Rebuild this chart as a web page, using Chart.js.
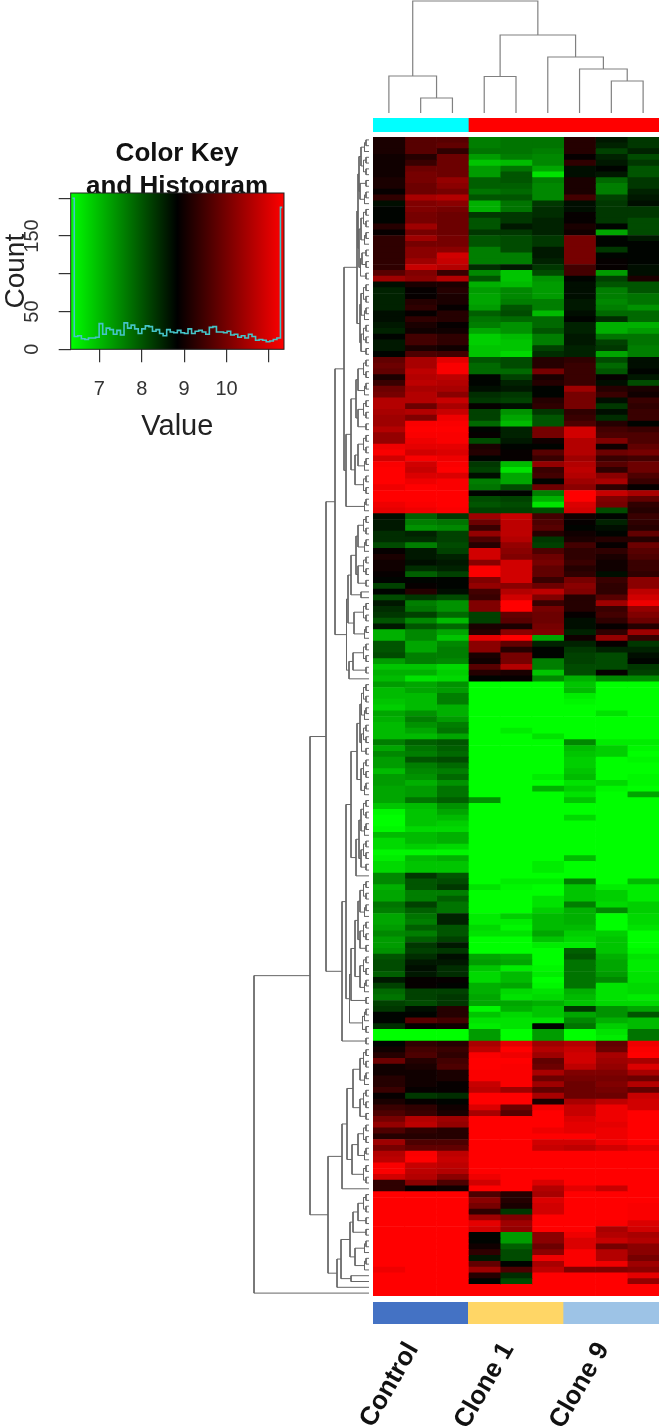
<!DOCTYPE html>
<html>
<head>
<meta charset="utf-8">
<title>Heatmap</title>
<script src="https://cdn.jsdelivr.net/npm/chart.js@4"></script>
<style>
  html, body { margin: 0; padding: 0; background: #fff; }
  body { position: relative; width: 660px; height: 1428px; overflow: hidden; }
  canvas { position: absolute; filter: blur(0.4px); }
  #heat { filter: blur(0.6px); }
</style>
</head>
<body>
<canvas id="key" style="left:0;top:128px" width="354" height="320"></canvas>
<canvas id="treeTop" style="left:373px;top:0" width="286" height="113"></canvas>
<canvas id="treeLeft" style="left:239px;top:137px" width="130" height="1159"></canvas>
<canvas id="stripTop" style="left:373px;top:118px" width="286" height="14"></canvas>
<canvas id="heat" style="left:373px;top:137px" width="286" height="1159"></canvas>
<canvas id="stripBottom" style="left:333px;top:1302px" width="326" height="126"></canvas>
<script>
const groupNames = ['Control', 'Clone 1', 'Clone 9'];
const groupColors = ['#4472c4', '#ffd666', '#9dc3e6'];
const clusterSizes = [3, 6];
const clusterColors = ['#00ffff', '#ff0000'];

const keyMin = 6.325;
const keyMid = 8.84;
const keyMax = 11.354;
const keyTicks = [7, 8, 9, 10];
const countTicks = [0, 50, 150];
const histCounts = [200, 17, 18, 14, 13, 15, 15, 16, 34, 20, 28, 26, 20, 25, 19, 35, 28, 32, 27, 21,
  27, 31, 30, 24, 26, 21, 18, 26, 23, 22, 25, 22, 21, 27, 21, 24, 25, 23, 20, 29,
  30, 23, 23, 22, 24, 19, 20, 16, 18, 15, 20, 17, 12, 13, 12, 10, 11, 13, 15, 188];

// one row per gene, nine samples (3 control, 3 clone 1, 3 clone 9)
const geneRows = [
  [9.1,9.7,9.7,7.6,7.7,7.7,9.2,8.6,8.3],
  [9.1,9.7,9.8,7.6,7.7,7.7,9.2,8.5,8.3],
  [9.1,9.7,9.3,7.7,7.7,7.6,9.2,8.2,8.5],
  [9.0,9.2,9.9,7.3,7.6,7.5,8.9,8.5,8.1],
  [9.0,9.4,9.9,6.9,7.0,7.5,9.3,8.6,8.3],
  [9.0,9.9,9.9,7.3,7.7,7.2,8.7,8.8,8.0],
  [9.0,10,9.9,7.3,8.0,6.6,8.7,8.6,8.0],
  [9.1,10,10.3,7.9,8.0,7.6,9.1,7.8,8.3],
  [9.1,9.9,10.2,7.9,7.9,7.5,9.1,7.6,8.3],
  [8.9,9.9,10,7.7,7.8,7.5,9.1,7.6,8.5],
  [9.3,10.5,10.6,8.0,8.0,7.5,9.5,8.2,8.6],
  [8.7,10.1,10.2,7.1,7.7,8.3,8.7,8.3,8.7],
  [8.8,10.1,10,7.1,7.7,8.4,8.7,8.3,8.3],
  [8.8,10,9.9,8.3,8.3,8.4,8.9,8.3,8.3],
  [8.8,10,9.9,8.0,8.3,8.5,8.9,8.3,8.1],
  [9.2,10.4,9.9,8.0,8.6,8.5,9.1,8.8,8.1],
  [8.9,10,9.9,8.3,8.3,8.5,9.0,7.2,8.1],
  [9.3,10.4,10,8.0,8.1,8.3,10,8.8,8.6],
  [9.3,10,10,8.0,8.1,8.3,10,8.8,8.8],
  [9.3,10.2,10.2,7.6,8.1,8.6,10,8.3,8.8],
  [9.3,10.2,10.9,7.6,7.6,8.6,10,8.8,8.8],
  [9.3,10.4,10.8,7.6,7.6,8.5,10,8.9,8.8],
  [9.3,10.8,10.6,8.4,8.6,8.3,9.5,8.9,8.7],
  [9.7,10.1,9.4,7.5,6.9,8.1,9.5,7.3,8.7],
  [10.4,10.2,10.6,8.0,6.9,7.4,8.8,8.2,9.1],
  [8.7,9.1,9.1,7.1,7.0,7.3,8.7,8.0,8.0],
  [8.5,8.9,9.2,7.3,7.5,7.3,8.7,7.6,8.0],
  [8.5,8.9,9.1,7.2,7.5,7.3,8.7,7.6,7.7],
  [8.5,9.2,9.1,7.2,7.6,7.6,8.6,7.5,7.7],
  [8.5,9.3,8.9,7.3,8.0,7.6,8.6,7.6,7.4],
  [8.7,8.9,9.2,7.9,8.1,7.0,8.7,7.8,7.8],
  [8.7,9.3,9.2,7.7,7.8,7.8,8.8,8.4,7.8],
  [8.6,9.1,8.9,7.6,7.4,7.8,8.5,7.1,7.1],
  [8.5,9.0,9.0,7.2,7.4,8.0,8.5,7.1,7.3],
  [8.8,9.5,9.3,6.8,7.0,7.6,8.6,7.7,7.7],
  [8.6,9.5,9.3,6.8,6.9,7.6,8.6,8.2,7.7],
  [8.6,9.1,9.0,6.9,6.9,8.2,8.5,8.3,7.6],
  [8.8,9.6,9.5,6.9,6.7,8.4,8.5,7.2,7.6],
  [9.8,10.5,11.1,8.0,8.1,9.2,9.3,8.1,8.7],
  [9.9,10.5,11.3,7.8,8.1,9.2,9.4,7.8,8.7],
  [9.8,10.7,11.3,7.8,7.8,10.0,9.4,8.0,8.8],
  [9.1,10.6,10.7,8.8,8.2,9.1,9.4,8.9,8.6],
  [9.4,10.7,10.6,8.8,8.5,9.2,9.4,8.7,8.1],
  [9.9,10.5,10.5,8.7,8.6,8.8,10.4,9.2,9.1],
  [10.0,10.6,10.2,8.4,8.3,8.8,10.0,9.4,9.0],
  [10.6,10.6,10.8,8.3,8.2,9.2,10,8.7,9.4],
  [10.6,9.9,10.5,8.9,8.7,9.3,10,8.3,9.3],
  [10.5,10.6,10.8,8.2,7.4,8.3,9.3,8.7,9.4],
  [10.4,10.1,11.2,8.2,7.2,8.0,9.4,8.4,9.4],
  [10.4,11.3,11.3,7.8,7.0,8.0,9.6,9.2,8.8],
  [10.6,11.4,11.4,8.8,8.5,10.0,10.9,9.5,9.4],
  [10.3,11.3,11.3,8.9,8.5,10.0,10.9,9.6,9.6],
  [10.3,11.2,11.3,8.1,8.6,9.0,10.6,10.1,9.6],
  [11.2,11.1,11.1,9.1,8.8,8.8,10.6,9.0,9.8],
  [11.3,10.9,11,9.2,8.9,9.7,10.6,9.9,10.0],
  [10.9,11.3,11.2,8.8,8.9,9.4,10.4,9.4,9.5],
  [11.3,10.9,11.3,8.3,7.0,10.3,10.6,9.7,9.9],
  [11.4,10.8,11.4,8.2,6.6,9.4,10.7,9.3,9.9],
  [11.4,11.0,11.0,8.7,7.2,9.5,10.6,10.2,9.6],
  [11.4,11.2,11.3,7.6,7.2,8.8,10.4,10.5,9.4],
  [11.2,11.4,11.3,7.7,8.1,9.9,10.2,9.3,8.9],
  [11.4,11.4,11.4,8.8,8.8,7.6,11.4,10.8,10.5],
  [11.4,11.4,11.4,8.1,8.2,7.1,11.4,10.1,9.8],
  [11.2,11.3,11.4,8.0,8.1,6.6,11.0,10.0,9.3],
  [11.1,11.2,11.3,8.2,8.2,8.1,10.9,8.1,9.2],
  [8.7,7.9,8.3,10.4,10.8,9.5,9.0,8.8,9.4],
  [8.6,7.6,7.7,9.9,10.7,9.6,8.9,8.5,9.3],
  [8.6,7.4,7.5,9.4,10.7,9.7,8.8,8.7,9.2],
  [8.4,8.5,8.2,10.3,10.7,9.2,9.0,8.8,9.8],
  [8.4,8.4,8.2,9.6,10.6,8.3,9.1,9.2,9.2],
  [8.1,7.6,8.1,9.2,10.3,8.2,9.5,8.9,9.9],
  [8.9,8.6,8.2,10.9,10.2,9.6,9.3,9.3,9.7],
  [9.1,8.6,8.5,10.9,10.1,9.9,9.3,9.1,9.6],
  [9.0,8.7,8.6,10.2,10.9,10,9.4,9.0,9.4],
  [9.0,8.4,8.5,11.3,10.9,9.8,9.2,9.0,9.4],
  [8.9,7.9,8.2,11.3,10.9,9.8,9.3,8.7,9.3],
  [8.8,8.8,8.8,10.1,10.9,9.4,10,9.4,10.2],
  [8.2,8.9,8.8,10.3,10.2,9.9,10.2,9.3,10.2],
  [8.8,9.2,8.7,9.5,10.6,10.7,10.1,9.3,10.7],
  [8.1,8.3,8.1,9.4,10.9,10.1,9.2,9.7,10.9],
  [8.6,7.6,7.4,10.1,11.4,9.4,9.2,10.4,11.2],
  [8.4,7.7,7.4,10.1,11.4,10,9.2,9.4,10.3],
  [8.3,8.2,7.8,8.2,9.8,9.9,8.9,9.5,10.1],
  [8.0,7.5,7.0,8.2,9.7,9.9,8.7,9.3,9.9],
  [8.6,8.0,7.8,9.1,9.1,10,8.7,8.9,9.2],
  [7.1,7.5,7.2,9.2,10.2,10.1,8.5,9.3,10.4],
  [7.1,7.5,6.9,11.1,11.4,7.2,9.0,10.3,9.4],
  [8.0,7.2,7.5,10.2,9.8,8.5,8.5,8.9,8.3],
  [8.0,7.2,7.6,10.2,9.2,8.8,8.3,8.5,8.5],
  [8.1,7.6,7.6,9.1,10,8.8,8.2,8.1,8.7],
  [7.3,7.6,7.5,9.0,10,7.6,8.2,8.1,8.8],
  [6.9,6.9,6.7,9.7,10.6,7.6,8.1,8.1,8.3],
  [7.1,7.1,6.8,9.2,9.1,6.9,8.1,8.9,8.2],
  [7.0,6.6,6.7,8.8,8.9,7.5,7.1,7.5,7.5],
  [7.3,7.2,7.4,6.3,6.3,6.3,6.9,6.3,6.3],
  [7.0,7.2,7.3,6.3,6.3,6.3,7.0,6.3,6.3],
  [7.0,7.0,7.6,6.3,6.3,6.3,6.5,6.3,6.3],
  [6.9,7.0,7.6,6.3,6.3,6.3,6.4,6.3,6.3],
  [6.8,7.0,7.1,6.3,6.3,6.3,6.3,6.3,6.3],
  [7.2,7.4,7.1,6.3,6.3,6.3,6.3,6.6,6.3],
  [7.1,7.6,7.3,6.3,6.3,6.3,6.3,6.3,6.3],
  [7.0,7.4,7.6,6.3,6.3,6.3,6.3,6.3,6.3],
  [7.0,7.2,7.7,6.3,6.5,6.3,6.3,6.3,6.3],
  [7.0,7.0,7.2,6.3,6.3,6.6,6.3,6.3,6.3],
  [7.6,7.9,8.0,6.3,6.3,6.3,7.5,6.5,6.5],
  [7.2,7.7,7.9,6.3,6.3,6.3,7.0,6.8,6.4],
  [7.5,7.6,7.8,6.3,6.3,6.3,6.9,6.8,6.3],
  [7.3,8.0,8.1,6.3,6.3,6.3,6.8,6.3,6.4],
  [7.3,7.6,7.8,6.3,6.3,6.3,6.8,6.3,6.3],
  [7.0,7.5,7.6,6.3,6.3,6.3,6.9,6.3,6.3],
  [7.3,7.4,7.8,6.3,6.3,6.5,7.0,6.3,6.4],
  [7.3,7.1,7.4,6.3,6.3,6.3,6.6,6.7,6.4],
  [7.2,7.3,7.7,6.3,6.3,7.1,6.8,6.4,6.3],
  [7.2,7.3,7.7,6.3,6.3,6.3,6.6,6.3,7.2],
  [7.2,7.7,7.9,7.4,6.3,6.3,6.9,6.3,6.3],
  [6.9,7.0,7.4,6.3,6.3,6.3,6.3,6.3,6.3],
  [6.4,6.9,7.2,6.3,6.3,6.3,6.3,6.3,6.3],
  [6.3,6.9,7.0,6.3,6.3,6.3,6.7,6.3,6.3],
  [6.3,6.9,6.8,6.3,6.3,6.3,6.3,6.3,6.3],
  [6.4,6.7,6.7,6.3,6.3,6.3,6.3,6.3,6.3],
  [7.0,7.0,7.1,6.3,6.3,6.3,6.3,6.3,6.3],
  [6.7,7.0,7.1,6.3,6.3,6.3,6.3,6.3,6.3],
  [6.7,6.8,6.7,6.3,6.3,6.3,6.3,6.3,6.3],
  [6.4,6.4,6.4,6.3,6.3,6.3,6.3,6.3,6.3],
  [6.5,7.0,7.1,6.3,6.3,6.3,7.0,6.3,6.3],
  [6.7,6.9,6.9,6.3,6.3,6.5,6.3,6.3,6.3],
  [6.7,6.9,6.9,6.3,6.3,6.5,6.3,6.3,6.3],
  [7.5,8.3,8.0,6.3,6.3,6.3,6.3,6.3,6.3],
  [7.5,8.0,8.1,6.3,6.5,6.5,7.6,6.3,7.0],
  [7.1,8.0,8.3,6.6,6.4,6.3,6.9,6.5,6.5],
  [7.2,7.6,7.6,6.3,6.3,6.3,6.9,6.8,6.5],
  [7.2,7.6,7.9,6.3,6.3,6.6,6.9,6.8,6.5],
  [7.7,8.2,7.7,6.3,6.3,6.6,7.6,6.7,6.8],
  [7.6,7.9,7.7,6.3,6.3,6.8,7.1,7.5,6.8],
  [7.2,7.7,8.5,6.5,6.8,7.0,7.1,6.3,6.7],
  [7.2,7.6,8.5,6.5,6.5,7.0,7.1,6.3,6.7],
  [7.3,7.9,8.0,6.7,6.4,7.0,7.0,6.3,6.6],
  [7.5,7.6,8.0,6.6,6.6,7.2,6.8,6.8,6.3],
  [7.3,7.9,8.2,6.3,6.3,6.9,6.7,6.9,6.3],
  [7.3,8.3,8.6,6.3,6.3,6.5,6.5,6.9,6.3],
  [7.4,8.2,8.3,6.3,6.3,6.3,7.9,6.9,6.4],
  [8.0,8.4,8.7,7.2,7.1,6.3,8.0,7.1,6.6],
  [8.1,8.6,8.6,7.3,7.2,6.3,7.7,7.2,6.5],
  [8.1,8.7,8.4,6.9,6.5,6.4,7.7,7.2,6.5],
  [7.9,8.6,8.4,6.7,7.0,6.5,7.7,7.3,6.6],
  [8.6,8.9,8.9,6.7,7.0,6.3,7.7,7.5,6.6],
  [8.2,8.9,8.8,7.1,7.2,6.4,7.7,6.6,6.7],
  [7.8,8.2,8.2,7.1,6.7,6.6,7.1,6.6,6.7],
  [7.7,8.2,8.3,7.2,6.6,6.7,7.0,6.6,6.5],
  [8.2,8.1,8.3,7.2,7.2,7.1,6.9,6.7,6.7],
  [8.3,8.7,9.2,6.4,7.1,6.9,8.3,7.4,7.2],
  [8.8,8.8,9.2,6.9,6.7,6.9,7.2,7.4,8.0],
  [8.8,9.7,9.5,6.6,6.6,6.6,7.5,7.1,7.0],
  [8.4,8.9,9.0,6.5,6.6,8.8,7.7,6.8,7.0],
  [6.3,6.3,6.3,7.3,6.3,7.3,6.3,6.6,7.7],
  [6.3,6.3,6.3,7.3,6.3,7.3,6.3,6.5,7.7],
  [8.8,9.3,9.2,10.5,11.1,10.4,10.6,9.8,11.2],
  [9.0,9.5,9.4,10.7,11.4,10.6,10.8,9.9,11.3],
  [9.2,9.6,9.3,11.3,11.2,10.4,10.9,10.5,11.4],
  [9.9,9.2,9.5,11.4,11.4,9.8,10.9,10.4,10.5],
  [9.0,9.1,9.6,11.4,11.3,9.9,10.7,10.3,11.0],
  [9.0,9.0,9.1,11.3,11.3,10.5,10.1,10.1,10.5],
  [9.2,9.0,9.1,11.3,11.3,9.9,10.0,10,9.9],
  [9.2,9.0,8.9,10.8,11.3,10.4,9.9,10.1,10.6],
  [9.4,8.9,8.9,10.7,10.4,9.8,9.9,10.0,9.8],
  [8.9,8.3,8.4,11.4,11.4,10.5,9.9,9.9,10.8],
  [9.1,8.9,8.8,11.4,11.4,9.1,10.5,10.7,10.9],
  [9.4,9.3,9.0,11.0,9.9,11.2,10.8,11.2,10.9],
  [9.6,9.4,9.1,10.5,9.7,11.4,10.8,11.2,11.4],
  [10.0,10.6,10.4,11.4,11.4,11.4,11.0,11.2,11.4],
  [10.3,10.7,10.3,11.4,11.4,11.4,11.1,11.1,11.4],
  [9.6,9.3,9.2,11.4,11.4,11.2,11.1,11.2,11.4],
  [9.2,9.2,9.2,11.4,11.4,11.4,11.4,11.2,11.4],
  [10.4,9.6,9.6,11.4,11.4,10.9,10.9,11.2,11.4],
  [10.0,9.8,9.8,11.4,11.4,10.8,10.7,10.9,11.1],
  [10.6,11.3,10.7,11.4,11.4,11.4,11.4,11.4,11.4],
  [10.7,11.4,10.8,11.4,11.4,11.4,11.4,11.4,11.4],
  [11.3,10.8,10.7,11.4,11.4,11.4,11.4,11.4,11.4],
  [11.3,10.7,10.6,11.4,11.4,11.4,11.4,11.4,11.4],
  [10.9,10.6,10.2,11.2,11.4,11.4,11.4,11.4,11.4],
  [9.3,10.2,9.6,10.9,11.4,11.0,11.4,11.4,11.4],
  [9.3,8.9,9.0,11.4,11.4,10.6,11.1,10.8,11.4],
  [11.4,11.4,11.4,9.6,9.2,10.5,11.4,11.4,11.4],
  [11.4,11.4,11.4,10.2,9.2,11.0,11.4,11.4,11.4],
  [11.4,11.4,11.4,10.0,9.1,10.9,11.4,11.4,11.3],
  [11.4,11.4,11.4,9.3,8.3,10.9,11.4,11.4,11.3],
  [11.4,11.4,11.4,10.4,10.1,11.4,11.4,11.4,11.3],
  [11.4,11.4,11.4,11.1,10.4,11.4,11.4,11.3,11.0],
  [11.4,11.4,11.4,10.9,10.3,11.4,11.4,10.5,10.9],
  [11.4,11.4,11.4,8.8,7.3,10.2,11.2,10.6,10.5],
  [11.4,11.4,11.4,8.8,7.3,10.2,11.0,10.8,10.6],
  [11.4,11.4,11.4,9.0,7.9,9.9,11.0,10.0,10.2],
  [11.4,11.4,11.4,9.3,8.1,10.2,11.3,10.6,10.2],
  [11.4,11.4,11.4,8.6,8.1,11.2,11.3,10.6,10.0],
  [11.4,11.4,11.4,9.8,8.8,10.5,11.3,11.2,10.4],
  [11.2,11.4,11.4,10.4,9.6,10.7,10.1,10.1,10.2],
  [11.4,11.4,11.4,9.2,8.4,11.4,11.4,11.4,11.1],
  [11.4,11.4,11.4,8.8,8.1,11.4,11.4,11.4,10.3],
  [11.4,11.4,11.4,11.4,11.4,11.4,11.4,11.4,11.4],
  [11.4,11.4,11.4,11.4,11.4,11.4,11.4,11.4,11.4]
];

// dendrograms: [height, first child, second child], 0 is a leaf
const topTree = [112, [37, 0, [15, 0, 0]], [78, [36.5, 0, 0], [56, 0, [44, 0, [32, 0, 0]]]]];

const p = [3, 0, 0];
const t = [4.5, p, 0];
const q = [5.5, p, p];
const f = [6.5, t, p];
const cA1 = [11, [10, [8, t, q], [9, p, t]], [10, [8, q, t], [8.5, [7, p, p], p]]];
const cA2 = [9, [8, q, t], [8, q, p]];
const cB = [23, [18, [13, [11, q, t], [11, q, p]], [14, [11, q, t], q]], t];
const cC = [21, [18, [13, [11, q, t], [11, q, p]], [8, 0, 0]], [15, q, t]];
const cD = [20, [16, q, p], 0];
const upper = [34, [25, [12, cA1, cA2], cB], [22.5, cC, cD]];
const cR1 = [12, [9, [7.5, q, t], [7.5, q, p]], [8, q, t]];
const cR2 = [13, [10, [8, q, t], [8, q, p]], 0];
const cR3 = [19.5, [18, [14, [11, [9, q, t], [9, q, p]], [9, q, t]], p], f];
const middle = [27, [23, [18, cR1, cR2], cR3], p];
const cU = [27, [22, [16, [9, q, t], [9, q, p]], [17, [11, q, t], q]], 0];
const cV = [32, [28, [19, [16, [11, q, p], p], [14, t, t]], [18, 0, 0]], 0];
const leftTree = [115, [59, [43, upper, middle], [41, cU, cV]], 0];

function valueColor(v) {
  if (v < keyMid) {
    const g = Math.min(1, (keyMid - v) / (keyMid - keyMin));
    return `rgb(0,${Math.round(g * 255)},0)`;
  }
  const r = Math.min(1, (v - keyMid) / (keyMax - keyMid));
  return `rgb(${Math.round(r * 255)},0,0)`;
}

// turn a merge tree into line segments, broken by null points
function treeSegments(tree) {
  const segs = [];
  let leaf = 0;
  function walk(node) {
    if (node === 0) return { pos: 0.5 + leaf++, h: 0 };
    const a = walk(node[1]);
    const b = walk(node[2]);
    const h = node[0];
    segs.push({ h: a.h, pos: a.pos }, { h, pos: a.pos }, { h, pos: b.pos }, { h: b.h, pos: b.pos }, null);
    return { pos: (a.pos + b.pos) / 2, h };
  }
  walk(tree);
  return segs;
}

const base = { responsive: false, animation: false, events: [], plugins: { legend: { display: false }, tooltip: { enabled: false } } };

// heatmap
new Chart(document.getElementById('heat'), {
  type: 'bar',
  data: {
    labels: geneRows.map((r, i) => i + 1),
    datasets: geneRows[0].map((_, j) => ({
      data: geneRows.map(() => [j, j + 1]),
      backgroundColor: geneRows.map(r => valueColor(r[j]))
    }))
  },
  options: {
    ...base,
    indexAxis: 'y',
    grouped: false,
    barPercentage: 1,
    categoryPercentage: 1,
    scales: {
      x: { type: 'linear', min: 0, max: 9, display: false },
      y: { reverse: false, display: false }
    }
  }
});

// dendrograms
new Chart(document.getElementById('treeTop'), {
  type: 'scatter',
  data: {
    datasets: [{
      data: treeSegments(topTree).map(s => s ? { x: s.pos, y: s.h } : { x: null, y: null }),
      showLine: true, pointRadius: 0, borderColor: '#808080', borderWidth: 1.2
    }]
  },
  options: {
    ...base,
    scales: {
      x: { min: 0, max: 9, display: false },
      y: { min: 0, max: 113, display: false }
    }
  }
});

new Chart(document.getElementById('treeLeft'), {
  type: 'scatter',
  data: {
    datasets: [{
      data: treeSegments(leftTree).map(s => s ? { x: s.h, y: s.pos } : { x: null, y: null }),
      showLine: true, pointRadius: 0, borderColor: '#666666', borderWidth: 1
    }]
  },
  options: {
    ...base,
    scales: {
      x: { min: 0, max: 130, reverse: true, display: false },
      y: { min: 0, max: 200, reverse: true, display: false }
    }
  }
});

// cluster strip above the heatmap
new Chart(document.getElementById('stripTop'), {
  type: 'bar',
  data: {
    labels: ['cluster'],
    datasets: clusterSizes.map((n, i) => ({ data: [n], backgroundColor: clusterColors[i] }))
  },
  options: {
    ...base,
    indexAxis: 'y',
    barPercentage: 1,
    categoryPercentage: 1,
    scales: {
      x: { stacked: true, min: 0, max: 9, display: false },
      y: { stacked: true, display: false }
    }
  }
});

// group strip and its labels
new Chart(document.getElementById('stripBottom'), {
  type: 'bar',
  data: {
    labels: groupNames,
    datasets: [{ data: groupNames.map(() => 1), backgroundColor: groupColors }]
  },
  options: {
    ...base,
    layout: { padding: { left: 40 } },
    barPercentage: 1,
    categoryPercentage: 1,
    scales: {
      x: {
        grid: { display: false },
        border: { display: false },
        afterFit: s => { s.height = 104; s.paddingLeft = 0; s.paddingRight = 0; },
        ticks: {
          autoSkip: false, minRotation: 60, maxRotation: 60, padding: 5, labelOffset: -8,
          color: '#111', font: { family: '"Liberation Sans"', size: 26, weight: 'bold' }
        }
      },
      y: { min: 0, max: 1, display: false }
    }
  }
});

// colour key with the histogram on top
const keyBackground = {
  id: 'keyBackground',
  beforeDatasetsDraw(chart) {
    const { ctx, chartArea: a, scales } = chart;
    const grad = ctx.createLinearGradient(a.left, 0, a.right, 0);
    grad.addColorStop(0, '#00ff00');
    grad.addColorStop((scales.x.getPixelForValue(keyMid) - a.left) / a.width, '#000000');
    grad.addColorStop(1, '#ff0000');
    ctx.save();
    ctx.fillStyle = grad;
    ctx.fillRect(a.left, a.top, a.width, a.height);
    ctx.restore();
  },
  afterDatasetsDraw(chart) {
    const { ctx, chartArea: a } = chart;
    ctx.save();
    ctx.strokeStyle = '#222';
    ctx.lineWidth = 1;
    ctx.strokeRect(a.left, a.top, a.width, a.height);
    ctx.restore();
  }
};

const binWidth = (keyMax - keyMin) / histCounts.length;
const keyFont = { family: '"Liberation Sans"' };

new Chart(document.getElementById('key'), {
  type: 'scatter',
  data: {
    datasets: [{
      data: histCounts.map((c, i) => ({ x: keyMin + (i + 0.5) * binWidth, y: c })),
      showLine: true, stepped: 'middle', pointRadius: 0,
      borderColor: '#45c4c8', borderWidth: 1.6
    }]
  },
  options: {
    ...base,
    plugins: {
      ...base.plugins,
      title: {
        display: true,
        text: ['Color Key', 'and Histogram'],
        color: '#111',
        padding: { top: 10, bottom: -10 },
        font: { ...keyFont, size: 26, weight: 'bold', lineHeight: 1.25 }
      }
    },
    scales: {
      x: {
        min: keyMin, max: keyMax,
        afterFit: s => { s.height = 98.7; s.paddingRight = 70; s.paddingLeft = 0; },
        afterBuildTicks: s => { s.ticks = [7, 8, 9, 10, 11].map(value => ({ value })); },
        grid: { drawOnChartArea: false, tickLength: 13, tickColor: '#333', lineWidth: 1.2 },
        border: { display: false },
        ticks: {
          padding: 15, color: '#333', minRotation: 0, maxRotation: 0, autoSkip: false,
          font: { ...keyFont, size: 20 },
          callback: v => keyTicks.includes(v) ? String(v) : ''
        },
        title: {
          display: true, text: 'Value', color: '#222',
          font: { ...keyFont, size: 29 }, padding: { top: 0, bottom: 4 }
        }
      },
      y: {
        min: 0, max: 207,
        afterFit: s => { s.width = 70.7; },
        afterBuildTicks: s => { s.ticks = [0, 50, 100, 150, 200].map(value => ({ value })); },
        grid: { drawOnChartArea: false, tickLength: 12, tickColor: '#333', lineWidth: 1.2 },
        border: { display: false },
        ticks: {
          padding: 10, color: '#333', minRotation: 90, maxRotation: 90, crossAlign: 'center', autoSkip: false,
          font: { ...keyFont, size: 20 },
          callback: v => countTicks.includes(v) ? String(v) : ''
        },
        title: {
          display: true, text: 'Count', color: '#222',
          font: { ...keyFont, size: 28, lineHeight: 1.1 }, padding: { top: 1, bottom: 0 }
        }
      }
    }
  },
  plugins: [keyBackground]
});
</script>
</body>
</html>
